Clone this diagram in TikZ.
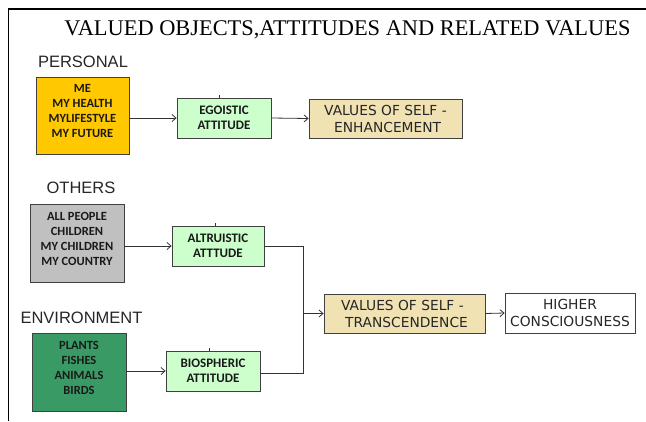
\documentclass[tikz,border=0pt]{standalone}
\usepackage{fontspec}
\setmainfont{Liberation Serif}
\newfontfamily\arialf{Liberation Sans}
\newfontfamily\calib{Carlito}
\newfontfamily\tahf{DejaVu Sans}
\usetikzlibrary{arrows.meta}
\definecolor{yel}{HTML}{FFC800}
\definecolor{gry}{HTML}{C0C0C0}
\definecolor{dgr}{HTML}{3A9A66}
\definecolor{lgr}{HTML}{CCFFCC}
\definecolor{wht}{HTML}{F0E2B2}
\definecolor{bord}{HTML}{404040}
\newcommand{\liftend}{\\[-6pt]\mbox{}}
\tikzset{
  grouplabel/.style={font=\arialf\fontsize{16.5}{18}\selectfont, text=black!85, inner sep=0},
  objbox/.style={draw=bord, line width=0.8pt, minimum width=94, minimum height=78, align=center,
    font=\calib\bfseries\fontsize{12.5}{15}\selectfont, inner sep=0, text=black!90},
  attbox/.style={draw=bord, fill=lgr, line width=0.8pt, minimum width=94, minimum height=40, align=center,
    font=\calib\bfseries\fontsize{13}{14.5}\selectfont, inner sep=0, text=black!90},
  valbox/.style={draw=bord, line width=0.8pt, minimum height=39, align=left,
    font=\tahf\fontsize{13.8}{17}\selectfont, inner sep=0, text=black!85},
  conn/.style={line width=0.8pt, draw=black!80},
  arr/.style={conn, -{Straight Barb[length=4pt,width=7pt]}},
}
\begin{document}
\begin{tikzpicture}[x=1pt,y=-1pt]
\useasboundingbox (0,0) rectangle (646,421);
\draw[line width=1.3pt] (8.5,421) -- (8.5,9) -- (646,9);
\node[anchor=base, inner sep=0] (title) at (347.5,35) {\fontsize{22.4}{24}\selectfont VALUED OBJECTS,ATTITUDES AND RELATED VALUES};
% personal
\node[grouplabel] (lper) at (83,62) {PERSONAL};
\node[objbox, fill=yel, minimum width=93, minimum height=77] (yel) at (82.5,115.5) {ME\\MY HEALTH\\MYLIFESTYLE\\MY FUTURE\liftend};
\node[attbox] (ego) at (224,118) {EGOISTIC\\ATTITUDE};
\node[valbox, fill=wht, minimum width=153] (enh) at (385.5,118.5) {VALUES OF SELF -\\\hspace*{10pt}ENHANCEMENT};
\draw[arr] (yel.east |- ego.west) -- (ego.west);
\draw[arr] (ego.east) -- (enh.west);
% others
\node[grouplabel] (loth) at (81,188) {OTHERS};
\node[objbox, fill=gry] (gry) at (77,243) {ALL PEOPLE\\CHILDREN\\MY CHILDREN\\MY COUNTRY\liftend};
\node[attbox, minimum width=92] (alt) at (218,246) {ALTRUISTIC\\ATTTUDE};
\draw[arr] (gry.east |- alt.west) -- (alt.west);
% environment
\node[grouplabel] (lenv) at (81.5,318) {ENVIRONMENT};
\node[objbox, fill=dgr] (dgr) at (79,372) {PLANTS\\FISHES\\ANIMALS\\BIRDS\liftend};
\node[attbox] (bio) at (213,371) {BIOSPHERIC\\ATTITUDE};
\draw[arr] (dgr.east |- bio.west) -- (bio.west);
% ticks on top of attitude boxes
\draw[conn, line width=0.5pt] (ego.north) ++(-5,0) -- ++(0,-3);
\draw[conn, line width=0.5pt] (alt.north) ++(-3,0) -- ++(0,-3);
\draw[conn, line width=0.5pt] (bio.north) ++(-4,0) -- ++(0,-3);
% transcendence
\node[valbox, fill=wht, minimum width=161] (trans) at (404.5,313.5) {VALUES OF SELF -\\\hspace*{4pt}TRANSCENDENCE};
\node[valbox, fill=white, minimum width=130, minimum height=40, align=center] (high) at (570,313) {HIGHER\\CONSCIOUSNESS};
\coordinate (jb) at (303,373);
\coordinate (jm) at (303,313.5);
\draw[conn] (alt.east) -| (jb) -- (bio.east |- jb);
\draw[arr] (jm) -- (trans.west);
\draw[arr] (trans.east) -- (high.west);
\end{tikzpicture}
\end{document}
